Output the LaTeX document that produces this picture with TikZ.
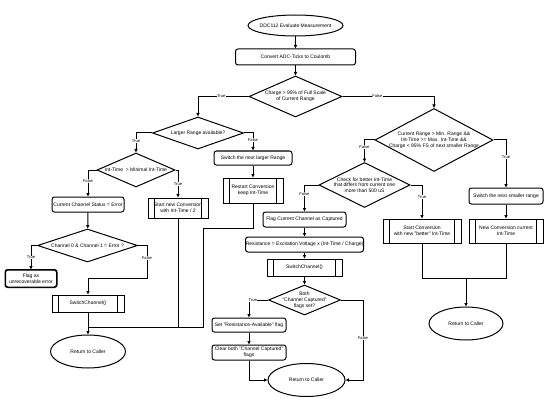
\documentclass[tikz,border=0pt]{standalone}
\usepackage{fontspec}
\setmainfont{Liberation Sans}
\usetikzlibrary{shapes.geometric,arrows.meta,calc}
\newcommand\myfs{\fontsize{10}{11.5}\selectfont}
\newcommand\mylblfs{\fontsize{8.2}{9}\selectfont}
\tikzset{
  sz/.style 2 args={minimum width={#1*2pt}, minimum height={#2*2pt}},
  base/.style={draw=black, line width=2pt, fill=white, inner sep=0pt, align=center, font=\myfs},
  proc/.style={base, rounded corners=5pt},
  subp/.style={base, path picture={
      \draw[line width=2pt] ([xshift=13pt]path picture bounding box.north west) -- ([xshift=13pt]path picture bounding box.south west);
      \draw[line width=2pt] ([xshift=-13pt]path picture bounding box.north east) -- ([xshift=-13pt]path picture bounding box.south east);}},
  term/.style={base, ellipse},
  dec/.style={base, diamond},
  every label/.style={font=\myfs, align=center, inner sep=0pt},
  conn/.style={draw=black, line width=2pt},
  arr/.style={conn, -{Triangle[length=7pt,width=6pt]}},
  lbl/.style={fill=white, font=\mylblfs, inner sep=1pt}
}
\begin{document}
\begin{tikzpicture}[x=2pt,y=-2pt]
\useasboundingbox[fill=white] (0,0) rectangle (550,401);

% top
\node[term, sz={95}{21}, label={center:DDC112 Evaluate Measurement}] (start) at (295.5,25.5) {};
\node[proc, sz={120}{16}] (convert) at (295.5,57) {Convert ADC-Ticks to Coulomb};
\node[dec, sz={93}{41}, label={center:{Charge > 95\% of Full Scale\\of Current Range}}] (charge) at (295.5,96.5) {};

% left part
\node[dec, sz={91}{32}, label={center:Larger Range available?}] (larger) at (198,133) {};
\node[dec, sz={78}{34}, label={center:{Int-Time\ \ > Minimal Int-Time}}] (inttime) at (136,170) {};
\node[proc, sz={72}{15}] (cse) at (88,204.5) {Current Channel Status = Error};
\node[subp, sz={60}{20}] (snc) at (178,208) {Start new Conversion\\with Int-Time / 2};
\node[dec, sz={100}{33}, label={center:{Channel 0 \& Channel 1 = Error ?}}] (chd) at (87.5,245.5) {};
\node[proc, sz={51}{17}] (unrec) at (31,278.5) {Flag as\\unrecoverable error};
\draw[line width=2pt, rounded corners=5pt] (unrec.south west) rectangle (unrec.north east);
\node[subp, sz={72}{17}] (sw1) at (88,303.5) {SwitchChannel()};
\node[term, sz={75}{33}, label={center:Return to Caller}] (ret1) at (88,351.5) {};
\node[proc, sz={78}{14}] (swl) at (253,158) {Switch the next larger Range};
\node[subp, sz={60}{25}] (restart) at (253,190.5) {Restart Conversion\\keep Int-Time};

% right part
\node[dec, sz={118}{63}, label={center:{Current Range > Min. Range \&\&\\Int-Time >= Max. Int-Time \&\&\\Charge < 95\% FS of next smaller Range}}] (bigd) at (434,140) {};
\node[dec, sz={91}{45}, label={center:{Check for better Int-Time\\that differs from current one\\more than 500 uS}}] (check) at (364.5,185) {};
\node[proc, sz={74}{16}] (sws) at (506,196) {Switch the next smaller range};
\node[subp, sz={74}{24}] (ncc) at (506,231) {New Conversion current\\Int-Time};
\node[subp, sz={78}{24}] (scb) at (422,231) {Start Conversion\\with new "better" Int-Time};
\node[term, sz={74}{33}, label={center:Return to Caller}] (ret3) at (466,323.5) {};

% middle part
\node[proc, sz={83}{15}] (fcc) at (304.5,219.5) {Flag Current Channel as Captured};
\node[proc, sz={118}{15}] (res) at (304.5,244.5) {Resistance = Excitation Voltage x (Int-Time / Charge)};
\node[subp, sz={75}{17}] (sw2) at (304.5,267.5) {SwitchChannel()};
\node[dec, sz={72}{30}, label={center:{Both\\"Channel Captured"\\flags set?}}] (both) at (304.5,300) {};
\node[proc, sz={74}{14}] (setf) at (249,325) {Set "Resistance-Available" flag};
\node[proc, sz={74}{15}] (clr) at (249,352.5) {Clear both "Channel Captured"\\flags};
\node[term, sz={77}{33}, label={center:Return to Caller}] (ret2) at (306.5,380) {};

% junction coordinates
\coordinate (j1) at (147,278.5);
\coordinate (j2) at (88,327);
\coordinate (j3) at (203,228);
\coordinate (j4) at (466,278);
\coordinate (j5) at (363,380);

% connectors
\draw[arr] (start) -- (convert);
\draw[arr] (convert) -- (charge);
\draw[arr] (charge.west) -| node[lbl,pos=0.27]{True} (larger.north);
\draw[arr] (charge.east) -| node[lbl,pos=0.19]{False} (bigd.north);

\draw[arr] (larger.west) -| node[lbl,pos=0.7]{True} (inttime.north);
\draw[arr] (larger.east) -| node[lbl,pos=0.69]{False} (swl.north);
\draw[arr] (inttime.west) -| node[lbl,pos=0.7]{False} (cse.north);
\draw[arr] (inttime.east) -| node[lbl,pos=0.75]{True} (snc.north);
\draw[arr] (cse) -- (chd);
\draw[arr] (chd.west) -| node[lbl,pos=0.75]{True} (unrec.north);
\draw[arr] (chd.east) -| node[lbl,pos=0.69]{False} (j1) -| (sw1.north);
\draw[arr] (sw1) -- (ret1);
\draw[conn] (snc.south) |- (j2);
\draw[conn] (restart.south) |- (j3) |- (j2);
\draw[arr] (swl) -- (restart);

\draw[arr] (bigd.west) -| node[lbl,pos=0.66]{False} (check.north);
\draw[arr] (bigd.east) -| node[lbl,pos=0.68]{True} (sws.north);
\draw[arr] (sws) -- (ncc);
\draw[arr] (check.west) -| node[lbl,pos=0.67]{False} (fcc.north);
\draw[arr] (check.east) -| node[lbl,pos=0.68]{True} (scb.north);
\draw[conn] (scb.south) -- (scb.south |- j4) -- (ncc.south |- j4) -- (ncc.south);
\draw[arr] (j4) -- (ret3.north);

\draw[arr] (fcc) -- (res);
\draw[arr] (res) -- (sw2);
\draw[arr] (sw2) -- (both);
\draw[arr] (both.west) -| node[lbl,pos=0.4]{True} (setf.north);
\draw[arr] (both.east) -| node[lbl,pos=0.74]{False} (j5) -- (ret2.east);
\draw[arr] (setf) -- (clr);
\draw[arr] (clr.south) |- (ret2.west);
\end{tikzpicture}
\end{document}
